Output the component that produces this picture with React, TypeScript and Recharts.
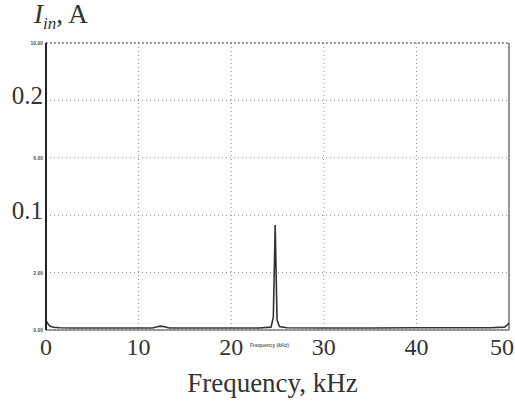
import { CartesianGrid, Line, LineChart, ReferenceLine, XAxis, YAxis } from "recharts";

// spectrum of the input current
const freqKHz = [
  0, 0.15, 0.4, 0.8, 1.5, 3, 6, 9, 11.5, 12.0, 12.4, 12.8, 13.3, 15, 19, 23, 24.3, 24.55, 24.75,
  24.95, 25.2, 26, 30, 35, 40, 45, 48, 49.5, 49.8, 50,
];
const currentA = [
  0.0085, 0.006, 0.0035, 0.0024, 0.002, 0.0018, 0.0017, 0.0017, 0.0018, 0.0028, 0.0034, 0.0028,
  0.0018, 0.0017, 0.0017, 0.0018, 0.0025, 0.011, 0.0915, 0.009, 0.003, 0.0019, 0.0018, 0.0018,
  0.0019, 0.0019, 0.002, 0.0025, 0.0042, 0.0062,
];

const xTicks = [0, 10, 20, 30, 40, 50];
const yTicks = [0, 0.05, 0.1, 0.15, 0.2, 0.25];
// overprinted labels in amperes (they hide the small scope labels beneath)
const bigYLabels: Record<string, string> = { "0.1": "0.1", "0.2": "0.2" };

const data = freqKHz.map((f, i) => ({ f, i: currentA[i] }));

const serif = '"Liberation Serif", "DejaVu Serif", serif';

function XTick(props: any) {
  const { x, y, payload } = props;
  const last = payload.value === 50;
  return (
    <text
      x={last ? x + 5 : x}
      y={y + 23}
      textAnchor={last ? "end" : "middle"}
      fontFamily={serif}
      fontSize={24}
      fill="#333"
    >
      {payload.value}
    </text>
  );
}

function YTick(props: any) {
  const { y, payload } = props;
  const v = payload.value as number;
  const big = bigYLabels[String(Math.round(v * 100) / 100)];
  if (big) {
    return (
      <text x={43} y={y + 4} textAnchor="end" fontFamily={serif} fontSize={25} fill="#333">
        {big}
      </text>
    );
  }
  return (
    <text x={43} y={y + 2} textAnchor="end" fontFamily="Arial, sans-serif" fontSize={5} fontWeight="bold" fill="#555">
      {(v * 40).toFixed(2)}
    </text>
  );
}

export default function App() {
  return (
    <div style={{ position: "relative", width: 515, height: 404, background: "#fff" }}>
      <style>{"body{margin:0}"}</style>
      <LineChart width={515} height={404} data={data} margin={{ top: 43, right: 6, left: 0, bottom: 0 }}>
        <CartesianGrid stroke="#8a8a8a" strokeDasharray="1 3" />
        <XAxis
          dataKey="f"
          type="number"
          domain={[0, 50]}
          ticks={xTicks}
          height={74}
          tickSize={0}
          tickLine={false}
          axisLine={{ stroke: "#444", strokeWidth: 1 }}
          tick={<XTick />}
          interval={0}
        />
        <YAxis
          domain={[0, 0.25]}
          ticks={yTicks}
          width={46}
          tickSize={0}
          tickLine={false}
          axisLine={{ stroke: "#222", strokeWidth: 2 }}
          tick={<YTick />}
          interval={0}
        />
        <ReferenceLine y={0.25} stroke="#555" strokeDasharray="2 2" />
        <ReferenceLine x={50} stroke="#777" strokeWidth={1.5} />
        <Line
          type="linear"
          dataKey="i"
          stroke="#333"
          strokeWidth={1.6}
          dot={false}
          isAnimationActive={false}
        />
      </LineChart>
      <div
        style={{
          position: "absolute",
          left: 34,
          top: -1,
          fontFamily: serif,
          fontSize: 27,
          color: "#333",
          whiteSpace: "nowrap",
        }}
      >
        <i>I</i>
        <sub style={{ fontSize: 17 }}>
          <i>in</i>
        </sub>
        , A
      </div>
      <div
        style={{
          position: "absolute",
          left: 250,
          top: 342,
          fontFamily: "Arial, sans-serif",
          fontSize: 5,
          fontWeight: "bold",
          color: "#666",
        }}
      >
        Frequency (kHz)
      </div>
      <div
        style={{
          position: "absolute",
          left: 0,
          width: 545,
          top: 368,
          textAlign: "center",
          fontFamily: serif,
          fontSize: 27,
          color: "#333",
        }}
      >
        Frequency, kHz
      </div>
    </div>
  );
}
